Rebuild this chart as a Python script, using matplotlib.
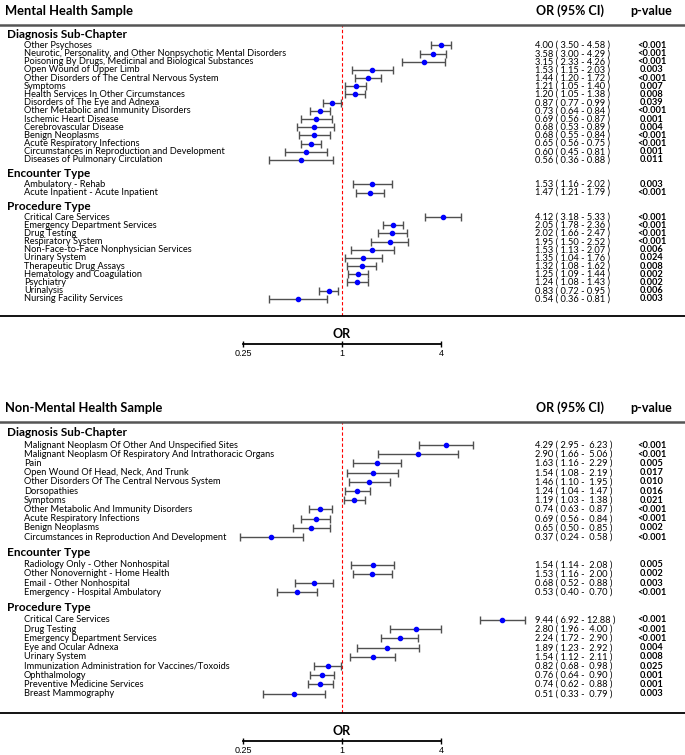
import numpy as np
import matplotlib.pyplot as plt
from matplotlib.ticker import NullLocator, FixedLocator, FixedFormatter
from matplotlib.transforms import blended_transform_factory

plt.rcParams['font.family'] = ['Lato', 'DejaVu Sans']

# ---------------- Mental Health Sample ----------------
mh_diag_labels = ['Other Psychoses',
                  'Neurotic, Personality, and Other Nonpsychotic Mental Disorders',
                  'Poisoning By Drugs, Medicinal and Biological Substances',
                  'Open Wound of Upper Limb',
                  'Other Disorders of The Central Nervous System',
                  'Symptoms',
                  'Health Services In Other Circumstances',
                  'Disorders of The Eye and Adnexa',
                  'Other Metabolic and Immunity Disorders',
                  'Ischemic Heart Disease',
                  'Cerebrovascular Disease',
                  'Benign Neoplasms',
                  'Acute Respiratory Infections',
                  'Circumstances in Reproduction and Development',
                  'Diseases of Pulmonary Circulation']
mh_diag_or = [4.00, 3.58, 3.15, 1.53, 1.44, 1.21, 1.20, 0.87, 0.73, 0.69, 0.68, 0.68, 0.65, 0.60, 0.56]
mh_diag_lo = [3.50, 3.00, 2.33, 1.15, 1.20, 1.05, 1.05, 0.77, 0.64, 0.56, 0.53, 0.55, 0.56, 0.45, 0.36]
mh_diag_hi = [4.58, 4.29, 4.26, 2.03, 1.72, 1.40, 1.38, 0.99, 0.84, 0.87, 0.89, 0.84, 0.75, 0.81, 0.88]
mh_diag_p = ['<0.001', '<0.001', '<0.001', '0.003', '<0.001', '0.007', '0.008', '0.039',
             '<0.001', '0.001', '0.004', '<0.001', '<0.001', '0.001', '0.011']

mh_enc_labels = ['Ambulatory - Rehab', 'Acute Inpatient - Acute Inpatient']
mh_enc_or = [1.53, 1.47]
mh_enc_lo = [1.16, 1.21]
mh_enc_hi = [2.02, 1.79]
mh_enc_p = ['0.003', '<0.001']

mh_proc_labels = ['Critical Care Services', 'Emergency Department Services', 'Drug Testing',
                  'Respiratory System', 'Non-Face-to-Face Nonphysician Services', 'Urinary System',
                  'Therapeutic Drug Assays', 'Hematology and Coagulation', 'Psychiatry',
                  'Urinalysis', 'Nursing Facility Services']
mh_proc_or = [4.12, 2.05, 2.02, 1.95, 1.53, 1.35, 1.32, 1.25, 1.24, 0.83, 0.54]
mh_proc_lo = [3.18, 1.78, 1.66, 1.50, 1.13, 1.04, 1.08, 1.09, 1.08, 0.72, 0.36]
mh_proc_hi = [5.33, 2.36, 2.47, 2.52, 2.07, 1.76, 1.62, 1.44, 1.43, 0.95, 0.81]
mh_proc_p = ['<0.001', '<0.001', '<0.001', '<0.001', '0.006', '0.024', '0.008', '0.002',
             '0.002', '0.006', '0.003']

# ---------------- Non-Mental Health Sample ----------------
nm_diag_labels = ['Malignant Neoplasm Of Other And Unspecified Sites',
                  'Malignant Neoplasm Of Respiratory And Intrathoracic Organs',
                  'Pain',
                  'Open Wound Of Head, Neck, And Trunk',
                  'Other Disorders Of The Central Nervous System',
                  'Dorsopathies',
                  'Symptoms',
                  'Other Metabolic And Immunity Disorders',
                  'Acute Respiratory Infections',
                  'Benign Neoplasms',
                  'Circumstances in Reproduction And Development']
nm_diag_or = [4.29, 2.90, 1.63, 1.54, 1.46, 1.24, 1.19, 0.74, 0.69, 0.65, 0.37]
nm_diag_lo = [2.95, 1.66, 1.16, 1.08, 1.10, 1.04, 1.03, 0.63, 0.56, 0.50, 0.24]
nm_diag_hi = [6.23, 5.06, 2.29, 2.19, 1.95, 1.47, 1.38, 0.87, 0.84, 0.85, 0.58]
nm_diag_p = ['<0.001', '<0.001', '0.005', '0.017', '0.010', '0.016', '0.021', '<0.001',
             '<0.001', '0.002', '<0.001']

nm_enc_labels = ['Radiology Only - Other Nonhospital', 'Other Nonovernight - Home Health',
                 'Email - Other Nonhospital', 'Emergency - Hospital Ambulatory']
nm_enc_or = [1.54, 1.53, 0.68, 0.53]
nm_enc_lo = [1.14, 1.16, 0.52, 0.40]
nm_enc_hi = [2.08, 2.00, 0.88, 0.70]
nm_enc_p = ['0.005', '0.002', '0.003', '<0.001']

nm_proc_labels = ['Critical Care Services', 'Drug Testing', 'Emergency Department Services',
                  'Eye and Ocular Adnexa', 'Urinary System',
                  'Immunization Administration for Vaccines/Toxoids', 'Ophthalmology',
                  'Preventive Medicine Services', 'Breast Mammography']
nm_proc_or = [9.44, 2.80, 2.24, 1.89, 1.54, 0.82, 0.76, 0.74, 0.51]
nm_proc_lo = [6.92, 1.96, 1.72, 1.23, 1.12, 0.68, 0.64, 0.62, 0.33]
nm_proc_hi = [12.88, 4.00, 2.90, 2.92, 2.11, 0.98, 0.90, 0.88, 0.79]
nm_proc_p = ['<0.001', '<0.001', '<0.001', '0.004', '0.008', '0.025', '0.001', '0.001', '0.003']

section_names = ['Diagnosis Sub-Chapter', 'Encounter Type', 'Procedure Type']

W, H = 685, 755
X1 = 342          # pixel of OR = 1
PX_PER_DOUBLING = 49.5

fig = plt.figure(figsize=(W / 100, H / 100), dpi=100)


def fy(px):
    return 1 - px / H


def fx(px):
    return px / W


def layout(sizes):
    # header and row positions in "row" units, counted from the top line
    y = 1.15
    headers, rows = [], []
    last = 0
    for k, n in enumerate(sizes):
        if k:
            y = last + 1.65
        headers.append(y)
        r = y + 1.35 + np.arange(n)
        rows.append(r)
        last = r[-1]
    return headers, rows, last + 2.1


def panel(title, top_px, sections, wide_ci):
    bot_px = top_px + 291
    ax = fig.add_axes([0, fy(bot_px), 1, (bot_px - top_px) / H])
    ax.set_xscale('log', base=2)
    ax.set_xlim(2 ** (-X1 / PX_PER_DOUBLING), 2 ** ((W - X1) / PX_PER_DOUBLING))
    headers, rows, total = layout([len(s[0]) for s in sections])
    ax.set_ylim(total, 0)
    ax.xaxis.set_major_locator(NullLocator())
    ax.xaxis.set_minor_locator(NullLocator())
    ax.yaxis.set_major_locator(NullLocator())
    ax.set_facecolor('none')
    for s in ['left', 'right']:
        ax.spines[s].set_visible(False)
    ax.spines['top'].set_color('#555555')
    ax.spines['top'].set_linewidth(1.8)
    ax.spines['bottom'].set_color('black')
    ax.spines['bottom'].set_linewidth(1.3)
    ax.axvline(1, color='red', lw=0.8, ls=(0, (3, 2)), zorder=1)

    tr = blended_transform_factory(fig.transFigure, ax.transData)
    for name, hy, ry, (labels, orv, lo, hi, pv) in zip(section_names, headers, rows, sections):
        orv, lo, hi = np.array(orv), np.array(lo), np.array(hi)
        ax.text(fx(7), hy, name, transform=tr, fontsize=8.5, fontweight='bold', va='center')
        ax.errorbar(orv, ry, xerr=[orv - lo, hi - orv], fmt='o', color='blue', ms=3,
                    ecolor='#505050', elinewidth=1, capsize=2.9, capthick=1, zorder=3)
        for y, lab, o, l, h, p in zip(ry, labels, orv, lo, hi, pv):
            ax.text(fx(24), y, lab, transform=tr, fontsize=6.7, va='center')
            if wide_ci:
                ci = f'{o:.2f} ( {l:.2f} - {h:5.2f} )'
            else:
                ci = f'{o:.2f} ( {l:.2f} - {h:.2f} )'
            ax.text(fx(535), y, ci, transform=tr, fontsize=6.7, va='center')
            ax.text(fx(652), y, p, transform=tr, fontsize=6.7, fontweight='bold',
                    va='center', ha='center')

    fig.text(fx(5), fy(top_px - 14), title, fontsize=9.3, fontweight='bold', va='center')
    fig.text(fx(570), fy(top_px - 14), 'OR (95% CI)', fontsize=9, fontweight='bold',
             va='center', ha='center')
    fig.text(fx(651), fy(top_px - 14), 'p-value', fontsize=9, fontweight='bold',
             va='center', ha='center')

    # OR scale bar
    line_px = bot_px + 28
    axs = fig.add_axes([0, fy(line_px), 1, 0.01])
    axs.set_facecolor('none')
    axs.set_xscale('log', base=2)
    axs.set_xlim(ax.get_xlim())
    axs.yaxis.set_major_locator(NullLocator())
    for s in ['left', 'right', 'top']:
        axs.spines[s].set_visible(False)
    axs.spines['bottom'].set_bounds(0.25, 4)
    axs.spines['bottom'].set_linewidth(1.3)
    axs.xaxis.set_major_locator(FixedLocator([0.25, 1, 4]))
    axs.xaxis.set_major_formatter(FixedFormatter(['0.25', '1', '4']))
    axs.xaxis.set_minor_locator(NullLocator())
    axs.tick_params(axis='x', direction='inout', length=5, width=1, labelsize=6.5, pad=1)
    for t in axs.get_xticklabels():
        t.set_fontfamily('Liberation Sans')
    trs = blended_transform_factory(axs.transData, fig.transFigure)
    axs.text(1, fy(line_px - 10), 'OR', transform=trs, fontsize=9, fontweight='bold',
             ha='center', va='center')


panel('Mental Health Sample', 25,
      [(mh_diag_labels, mh_diag_or, mh_diag_lo, mh_diag_hi, mh_diag_p),
       (mh_enc_labels, mh_enc_or, mh_enc_lo, mh_enc_hi, mh_enc_p),
       (mh_proc_labels, mh_proc_or, mh_proc_lo, mh_proc_hi, mh_proc_p)], False)

panel('Non-Mental Health Sample', 422,
      [(nm_diag_labels, nm_diag_or, nm_diag_lo, nm_diag_hi, nm_diag_p),
       (nm_enc_labels, nm_enc_or, nm_enc_lo, nm_enc_hi, nm_enc_p),
       (nm_proc_labels, nm_proc_or, nm_proc_lo, nm_proc_hi, nm_proc_p)], True)

fig.savefig('out.png', dpi=100)
